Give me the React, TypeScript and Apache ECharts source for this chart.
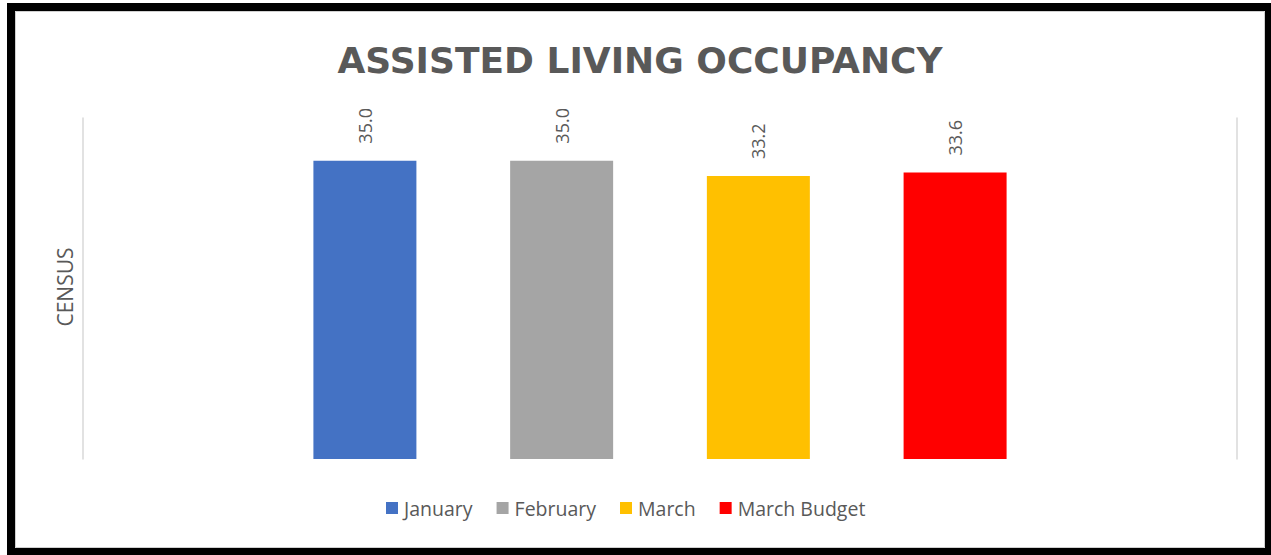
import React, { useEffect, useRef } from "react";
import * as echarts from "echarts";

const categories = [""];
const seriesNames = ["January", "February", "March", "March Budget"];
const seriesValues = [35.0, 35.0, 33.2, 33.6];
const seriesColors = ["#4472C4", "#A5A5A5", "#FFC000", "#FF0000"];
const titleText = "ASSISTED LIVING OCCUPANCY";
const yAxisTitle = "CENSUS";

export default function App() {
  const ref = useRef<HTMLDivElement>(null);
  useEffect(() => {
    if (!ref.current) return;
    const chart = echarts.init(ref.current, null, { renderer: "svg" });
    const font = "'Open Sans', 'Noto Sans', sans-serif";
    chart.setOption({
      animation: false,
      backgroundColor: "#ffffff",
      textStyle: { fontFamily: font },
      grid: { left: 83, right: 34, top: 118, bottom: 96, containLabel: false },
      xAxis: {
        type: "category",
        data: categories,
        axisLine: { show: false },
        axisTick: { show: false },
        axisLabel: { show: false },
        splitLine: { show: false },
      },
      yAxis: [
        {
          type: "value",
          min: 0,
          max: 40,
          interval: 5,
          position: "left",
          axisLine: { show: true, lineStyle: { color: "#D9D9D9", width: 1.5 } },
          axisTick: { show: false },
          axisLabel: { show: false },
          splitLine: { show: false },
        },
        {
          type: "value",
          min: 0,
          max: 40,
          interval: 5,
          position: "right",
          axisLine: { show: true, lineStyle: { color: "#D9D9D9", width: 1.5 } },
          axisTick: { show: false },
          axisLabel: { show: false },
          splitLine: { show: false },
        },
      ],
      legend: {
        bottom: 32,
        left: 381,
        itemWidth: 12,
        itemHeight: 12,
        itemGap: 24,
        icon: "rect",
        textStyle: { color: "#595959", fontSize: 19.5, fontFamily: font, padding: [0, 0, 0, 1] },
        data: seriesNames,
      },
      series: seriesNames.map((name, i) => ({
        name,
        type: "bar",
        yAxisIndex: 0,
        data: [seriesValues[i]],
        barWidth: 103,
        barGap: "91%",
        itemStyle: { color: seriesColors[i] },
        label: {
          show: true,
          position: "top",
          rotate: 90,
          align: "left",
          verticalAlign: "middle",
          distance: 17,
          color: "#595959",
          fontSize: 18,
          fontFamily: font,
          formatter: (p: any) => Number(p.value).toFixed(1),
        },
      })),
      graphic: [
        {
          type: "rect",
          shape: { x: 11, y: 7, width: 1258, height: 545 },
          style: { fill: "none", stroke: "#000000", lineWidth: 8 },
          silent: true,
        },
        {
          type: "rect",
          shape: { x: 15.5, y: 11.5, width: 1249, height: 536 },
          style: { fill: "none", stroke: "#D0D0D0", lineWidth: 1 },
          silent: true,
        },
        {
          type: "text",
          x: 640,
          y: 60,
          style: {
            text: titleText,
            fill: "#595959",
            font: `bold 36px 'DejaVu Sans', sans-serif`,
            textAlign: "center",
            textVerticalAlign: "middle",
          },
        },
        {
          type: "text",
          x: 65,
          y: 287,
          rotation: Math.PI / 2,
          style: {
            text: yAxisTitle,
            fill: "#595959",
            font: `21px ${font}`,
            textAlign: "center",
            textVerticalAlign: "middle",
          },
        },
      ],
    });
    return () => chart.dispose();
  }, []);
  return (
    <div style={{ position: "fixed", left: 0, top: 0, width: 1271, height: 555 }}>
      <div ref={ref} style={{ width: 1271, height: 555 }} />
    </div>
  );
}
